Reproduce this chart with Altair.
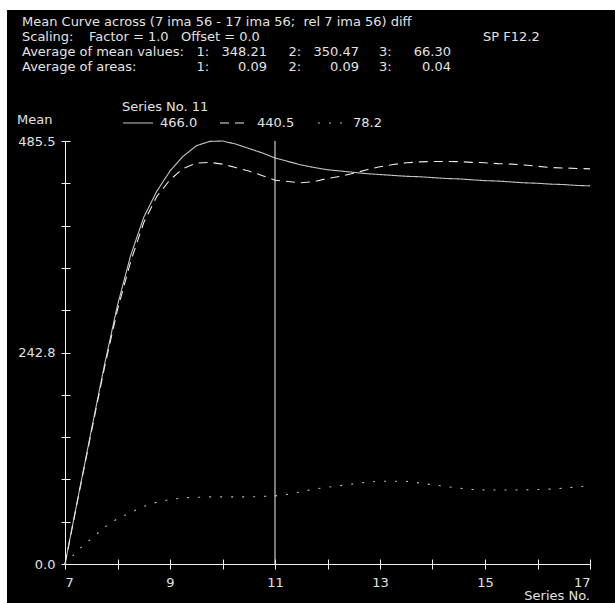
import altair as alt
import pandas as pd

# ---------------- data ----------------
series_x = [7.0, 7.25, 7.5, 7.75, 8.0, 8.25, 8.5, 8.75, 9.0, 9.25, 9.5, 9.75,
            10.0, 10.25, 10.5, 10.75, 11.0, 11.25, 11.5, 11.75, 12.0, 12.25,
            12.5, 12.75, 13.0, 13.25, 13.5, 13.75, 14.0, 14.25, 14.5, 14.75,
            15.0, 15.25, 15.5, 15.75, 16.0, 16.25, 16.5, 16.75, 17.0]
curve1 = [0, 77, 153, 228, 297, 354, 398, 428, 451, 468, 480, 485,
          485.5, 482, 477, 472, 466.0, 462, 458, 455, 452.5, 451,
          449.5, 448, 447, 446, 445, 444.5, 443.5, 442.5, 442, 441,
          440, 439.5, 438.5, 437.5, 437, 436, 435.5, 434.5, 434]
curve2 = [0, 76, 151, 225, 292, 347, 392, 422, 441, 454, 460, 461,
          459, 455, 451, 446, 440.5, 439, 437.5, 439, 442.5, 445,
          448.5, 452.5, 456, 458.5, 460.5, 461.5, 462, 462, 461.8, 461,
          460.5, 459.5, 459, 458, 456.5, 455, 454.5, 454, 453.5]
curve3 = [0, 16, 29, 42, 52, 59, 66, 71, 74, 76, 76.5, 77,
          77, 77, 77, 77.5, 78.2, 80, 83, 86, 88, 90,
          92, 94, 95, 95, 95, 93, 91, 89, 87, 85.5,
          85, 85, 85, 85, 85.5, 86, 87, 88.5, 90]
series_names = ["1", "2", "3"]

y_max = 485.5
y_tick_values = [round(y_max * k / 10, 2) for k in range(11)]
x_tick_values = list(range(7, 18))
cursor_x = 11

title_line = "Mean Curve across (7 ima 56 - 17 ima 56;\u00a0 rel 7 ima 56) diff"
scaling_parts = ["Scaling:", "Factor = 1.0", "Offset = 0.0"]
mean_label = "Average of mean values:"
mean_values = ["348.21", "350.47", "66.30"]
area_label = "Average of areas:"
area_values = ["0.09", "0.09", "0.04"]
index_labels = ["1:", "2:", "3:"]
corner_label = "SP F12.2"
legend_title = "Series No. 11"
y_title = "Mean"
x_title = "Series No."

# ---------------- build ----------------
rows = []
for name, ys in zip(series_names, [curve1, curve2, curve3]):
    for xv, yv in zip(series_x, ys):
        rows.append({"x": xv, "value": yv, "series": name})
df = pd.DataFrame(rows)

i11 = series_x.index(float(cursor_x))
legend_vals = [f"{c[i11]:.1f}" for c in (curve1, curve2, curve3)]

FONT = "DejaVu Sans"
TXT = "#e2e2e2"
FS = 13
W, H = 608, 593
X0, X1 = 58, 583       # view pixels of x = 7 and x = 17
Y0, Y1 = 554, 131      # view pixels of y = 0 and y = 485.5
LINE_COL = ["#c4c4c4", "#ebebeb", "#bdbdbd"]
LINE_DASH = [[1, 0], [9, 6], [2, 9]]

xs = alt.Scale(domain=[7, 17], range=[X0, X1])
ys = alt.Scale(domain=[0, y_max], range=[Y0, Y1])

ylab_expr = ("abs(datum.value)<0.01 || abs(datum.value-242.75)<0.2 || "
             "abs(datum.value-485.5)<0.01 ? format(datum.value, '.1f') : ''")

lines = alt.Chart(df).mark_line(strokeWidth=1.1).encode(
    x=alt.X("x:Q", scale=xs,
            axis=alt.Axis(orient="bottom", offset=-(H - Y0), values=x_tick_values,
                          tickSize=5, labelPadding=7, grid=False, title=None,
                          labelExpr="datum.value % 2 == 1 ? datum.label : ''")),
    y=alt.Y("value:Q", scale=ys,
            axis=alt.Axis(orient="left", offset=-X0, values=y_tick_values,
                          tickSize=4, labelPadding=6, grid=False, title=None,
                          labelExpr=ylab_expr)),
    color=alt.Color("series:N", scale=alt.Scale(domain=series_names, range=LINE_COL),
                    legend=None),
    strokeDash=alt.StrokeDash("series:N", scale=alt.Scale(domain=series_names,
                              range=LINE_DASH), legend=None),
)

cursor = alt.Chart(pd.DataFrame({"x": [cursor_x], "y": [y_max], "y2": [0]})).mark_rule(
    color="#f2f2f2", strokeWidth=1).encode(
    x=alt.X("x:Q", scale=xs,
            axis=alt.Axis(orient="top", offset=-Y0, values=x_tick_values,
                          tickSize=5, labels=False, domain=False, grid=False, title=None)),
    y=alt.Y("y:Q", scale=ys,
            axis=alt.Axis(orient="right", offset=-(W - X0), values=y_tick_values,
                          tickSize=5, labels=False, domain=False, grid=False, title=None)),
    y2="y2:Q",
)


def label(txt, x, y, align="left", size=FS):
    return alt.Chart().mark_text(text=txt, align=align, baseline="middle",
                                 font=FONT, fontSize=size, color=TXT).encode(
        x=alt.value(x), y=alt.value(y))


ROW_Y = [12, 27, 42, 57]
texts = [label(title_line, 15, ROW_Y[0])]
for part, px in zip(scaling_parts, [15, 82, 174]):
    texts.append(label(part, px, ROW_Y[1]))
for row_y, row_label, vals in [(ROW_Y[2], mean_label, mean_values),
                               (ROW_Y[3], area_label, area_values)]:
    texts.append(label(row_label, 15, row_y))
    for idx, v, ix, vx in zip(index_labels, vals, [189.5, 281.5, 372], [260, 352, 444]):
        texts.append(label(idx, ix, row_y))
        texts.append(label(v, vx, row_y, align="right"))
texts.append(label(corner_label, 476, ROW_Y[1]))
texts.append(label(legend_title, 115, 97))
texts.append(label(y_title, 10, 110))
texts.append(label(x_title, 583, 586, align="right"))

leg_x = [(116, 146, 153), (213, 240, 250), (311, 338, 346)]
leg_layers = []
for (a, b, t), d, c, v in zip(leg_x, LINE_DASH, LINE_COL, legend_vals):
    leg_layers.append(alt.Chart().mark_rule(strokeDash=d, color=c, strokeWidth=1.1).encode(
        x=alt.value(a), x2=alt.value(b), y=alt.value(113)))
    leg_layers.append(label(v, t, 113))

chart = alt.layer(lines, cursor, *texts, *leg_layers).resolve_axis(
    x="independent", y="independent"
).properties(
    width=W, height=H, background="white",
    padding={"left": 7, "top": 10, "right": 0, "bottom": 0},
    autosize=alt.AutoSizeParams(type="none"),
).configure_view(fill="black", stroke=None).configure_axis(
    domainColor="#f0f0f0", tickColor="#f0f0f0", labelColor=TXT,
    labelFont=FONT, labelFontSize=FS, domainWidth=1, tickWidth=1,
)

chart.save("out.html", embed_options={"renderer": "svg", "actions": False})
